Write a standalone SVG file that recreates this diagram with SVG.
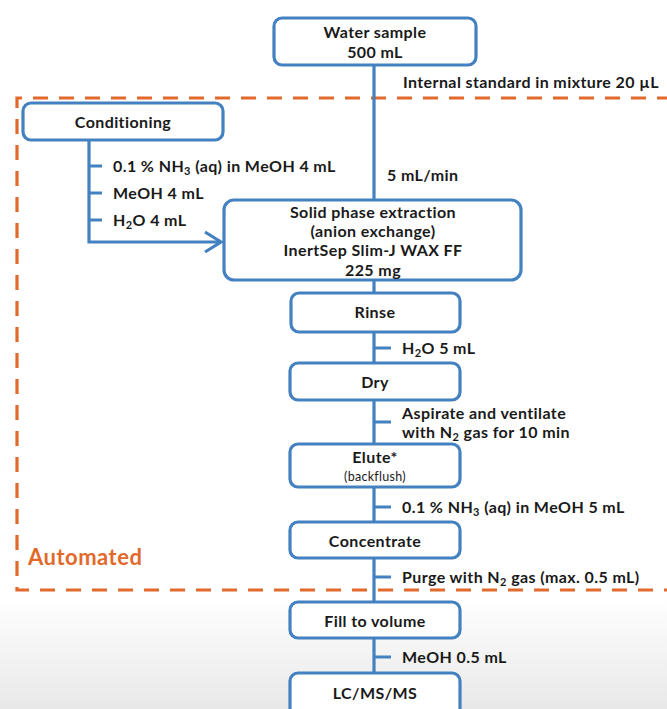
<svg xmlns="http://www.w3.org/2000/svg" width="667" height="709" viewBox="0 0 667 709">
<defs>
<linearGradient id="bg" x1="0" y1="0" x2="0" y2="1">
<stop offset="0" stop-color="#ffffff"/>
<stop offset="1" stop-color="#e8e8e8"/>
</linearGradient>
<style>
.box{fill:#ffffff;stroke:#4381c1;stroke-width:3.2}
.ln{fill:none;stroke:#4381c1;stroke-width:3.2}
.dash{fill:none;stroke:#e2692c;stroke-width:3.2;stroke-dasharray:15 11}
text{font-family:Lato,"Open Sans","Liberation Sans",sans-serif;font-weight:700;font-size:16px;letter-spacing:0.4px;fill:#1a1a1a}
.c{text-anchor:middle}
.sm{font-size:12.5px;font-weight:400;letter-spacing:0.3px}
.auto{font-size:22px;letter-spacing:0.5px;fill:#e2692c}
</style>
</defs>
<rect width="667" height="709" fill="#ffffff"/>
<rect x="0" y="598" width="667" height="111" fill="url(#bg)"/>

<g id="automated-region">
<path class="dash" d="M672 98 H17 V590 H672"/>
<text class="auto" x="28" y="565">Automated</text>
</g>

<g id="connectors">
<path class="ln" d="M374 65 V200 M374 280 V293 M374 332 V363 M374 400 V444 M374 487 V522 M374 558 V602 M374 638 V673"/>
<path class="ln" d="M89 140 V242 H220"/>
<polyline class="ln" points="205,232 221,242 205,252" stroke-width="3.5"/>
<path class="ln" d="M89 166 H102 M89 193 H102 M89 220 H102"/>
<path class="ln" d="M374 348 H391 M374 422 H391 M374 507 H391 M374 577 H391 M374 657 H391"/>
<text x="403" y="88">Internal standard in mixture 20 µL</text>
<text x="113" y="172">0.1 % NH<tspan font-size="11" dy="3">3</tspan><tspan dy="-3"> (aq) in MeOH 4 mL</tspan></text>
<text x="113" y="199">MeOH 4 mL</text>
<text x="113" y="226">H<tspan font-size="11" dy="3">2</tspan><tspan dy="-3">O 4 mL</tspan></text>
<text x="387" y="181">5 mL/min</text>
<text x="402" y="354">H<tspan font-size="11" dy="3">2</tspan><tspan dy="-3">O 5 mL</tspan></text>
<text x="402" y="419">Aspirate and ventilate</text>
<text x="402" y="438">with N<tspan font-size="11" dy="3">2</tspan><tspan dy="-3"> gas for 10 min</tspan></text>
<text x="402" y="513">0.1 % NH<tspan font-size="11" dy="3">3</tspan><tspan dy="-3"> (aq) in MeOH 5 mL</tspan></text>
<text x="402" y="583">Purge with N<tspan font-size="11" dy="3">2</tspan><tspan dy="-3"> gas (max. 0.5 mL)</tspan></text>
<text x="402" y="663">MeOH 0.5 mL</text>
</g>

<g id="water-sample">
<rect class="box" x="274" y="18" width="202" height="47" rx="8"/>
<text class="c" x="375" y="38">Water sample</text>
<text class="c" x="375" y="58">500 mL</text>
</g>

<g id="conditioning">
<rect class="box" x="23" y="103" width="200" height="37" rx="8"/>
<text class="c" x="123" y="128">Conditioning</text>
</g>

<g id="spe">
<rect class="box" x="224" y="200" width="297" height="80" rx="10"/>
<text class="c" x="373" y="218">Solid phase extraction</text>
<text class="c" x="373" y="237">(anion exchange)</text>
<text class="c" x="373" y="256">InertSep Slim-J WAX FF</text>
<text class="c" x="373" y="276">225 mg</text>
</g>

<g id="rinse">
<rect class="box" x="291" y="293" width="169" height="39" rx="8"/>
<text class="c" x="375" y="318">Rinse</text>
</g>

<g id="dry">
<rect class="box" x="290" y="363" width="170" height="37" rx="8"/>
<text class="c" x="375" y="388">Dry</text>
</g>

<g id="elute">
<rect class="box" x="290" y="444" width="170" height="43" rx="8"/>
<text class="c" x="375" y="463">Elute*</text>
<text class="c sm" x="375" y="481">(backflush)</text>
</g>

<g id="concentrate">
<rect class="box" x="290" y="522" width="170" height="36" rx="8"/>
<text class="c" x="375" y="547">Concentrate</text>
</g>

<g id="fill-to-volume">
<rect class="box" x="290" y="602" width="170" height="36" rx="8"/>
<text class="c" x="375" y="627">Fill to volume</text>
</g>

<g id="lcmsms">
<rect class="box" x="290" y="673" width="170" height="44" rx="8"/>
<text class="c" x="375" y="699">LC/MS/MS</text>
</g>
</svg>
